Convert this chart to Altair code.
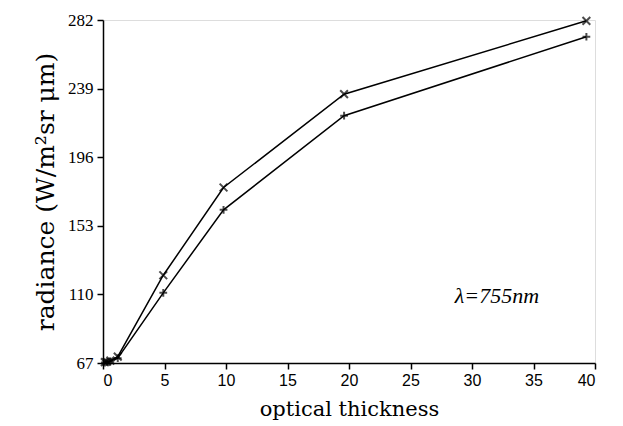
import altair as alt
import pandas as pd

tau = [0.15, 0.3, 0.6, 1.2, 4.9, 9.8, 19.6, 39.3]
upper = [67.5, 67.8, 68.5, 71.0, 122.0, 177.0, 235.5, 281.5]
lower = [67.3, 67.5, 68.0, 70.0, 111.0, 163.0, 222.0, 271.5]
y_ticks = [67, 110, 153, 196, 239, 282]
x_ticks = [0, 5, 10, 15, 20, 25, 30, 35, 40]
label_text = ["λ=755nm"]
label_x = [28.6]
label_y = [109]

df = pd.DataFrame({
    "tau": tau * 2,
    "rad": upper + lower,
    "series": ["upper"] * len(tau) + ["lower"] * len(tau),
})
lab = pd.DataFrame({"t": label_text, "x": label_x, "y": label_y})

xs = alt.Scale(domain=[0, 40], nice=False, zero=False)
ys = alt.Scale(domain=[67, 282], nice=False, zero=False)

x_axis = alt.Axis(values=x_ticks, title="optical thickness", grid=False,
                  labelFont="Liberation Sans", labelFontSize=16, labelColor="black",
                  titleFont="DejaVu Serif", titleFontWeight="normal", titleFontSize=21,
                  titleColor="black", domainColor="black", tickColor="black",
                  tickSize=6, labelPadding=3, titlePadding=10,
                  domainWidth=1.5, tickWidth=1.5)
y_axis = alt.Axis(values=y_ticks, title="radiance (W/m²sr μm)", grid=False,
                  labelFont="Liberation Serif", labelFontSize=17, labelColor="black",
                  titleFont="DejaVu Serif", titleFontWeight="normal", titleFontSize=25,
                  titleColor="black", domainColor="black", tickColor="black",
                  tickSize=6, labelPadding=4, titlePadding=9,
                  domainWidth=1.5, tickWidth=1.5)

base = alt.Chart(df)
lines = base.mark_line(color="black", strokeWidth=1.5).encode(
    x=alt.X("tau:Q", scale=xs, axis=x_axis),
    y=alt.Y("rad:Q", scale=ys, axis=y_axis),
    detail="series:N",
)
pts_up = alt.Chart(df[df.series == "upper"]).mark_point(
    shape="M-1,-1L1,1M-1,1L1,-1", size=60, filled=False, stroke="black", strokeWidth=2
).encode(x=alt.X("tau:Q", scale=xs), y=alt.Y("rad:Q", scale=ys))
pts_lo = alt.Chart(df[df.series == "lower"]).mark_point(
    shape="M-1,0L1,0M0,-1L0,1", size=60, filled=False, stroke="black", strokeWidth=2
).encode(x=alt.X("tau:Q", scale=xs), y=alt.Y("rad:Q", scale=ys))
txt = alt.Chart(lab).mark_text(
    font="Liberation Serif", fontStyle="italic", fontSize=22, align="left", baseline="middle",
    color="black"
).encode(x=alt.X("x:Q", scale=xs), y=alt.Y("y:Q", scale=ys), text="t:N")

chart = alt.layer(lines, pts_up, pts_lo, txt).properties(
    width=492, height=343,
    autosize=alt.AutoSizeParams(type="none"),
    padding={"left": 103, "top": 20, "right": 28, "bottom": 63},
).configure_view(stroke=None).configure(background="white")

chart.save("out.html", embed_options={"renderer": "svg", "actions": False})
